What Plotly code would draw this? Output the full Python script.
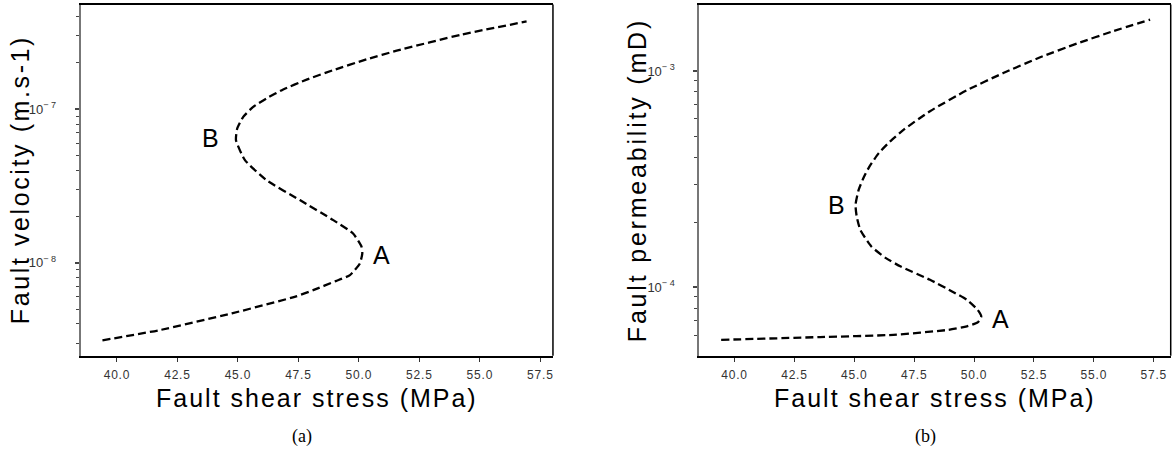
import plotly.graph_objects as go

# ---- data ----
stress_a = [39.40, 41.77, 44.75, 47.41, 48.11, 49.04, 49.63, 50.04, 50.14, 50.11,
            49.76, 48.94, 47.56, 46.18, 45.29, 44.92, 44.97, 45.22, 45.63, 46.18,
            46.87, 47.84, 48.94, 50.32, 51.56, 54.25, 56.93]
velocity_a = [3.13e-9, 3.65e-9, 4.69e-9, 6.05e-9, 6.64e-9, 7.60e-9, 8.32e-9, 9.91e-9,
              1.151e-8, 1.271e-8, 1.552e-8, 1.897e-8, 2.56e-8, 3.45e-8, 4.66e-8, 6.28e-8,
              7.48e-8, 8.91e-8, 1.035e-7, 1.175e-7, 1.343e-7, 1.556e-7, 1.795e-7, 2.11e-7,
              2.40e-7, 3.06e-7, 3.72e-7]

stress_b = [39.44, 43.57, 46.63, 48.93, 49.70, 50.15, 50.30, 50.15, 49.70, 49.08,
            48.16, 46.94, 46.32, 45.71, 45.25, 45.10, 45.05, 45.18, 45.41, 45.63,
            46.02, 46.48, 47.09, 48.16, 49.70, 51.22, 52.76, 54.29, 55.82, 57.35]
permeability_b = [5.70e-5, 5.87e-5, 6.01e-5, 6.34e-5, 6.58e-5, 6.86e-5, 7.31e-5, 7.85e-5,
                  8.73e-5, 9.55e-5, 1.081e-4, 1.245e-4, 1.361e-4, 1.542e-4, 1.841e-4,
                  2.12e-4, 2.40e-4, 2.82e-4, 3.25e-4, 3.61e-4, 4.17e-4, 4.71e-4, 5.38e-4,
                  6.52e-4, 8.15e-4, 9.79e-4, 1.158e-3, 1.340e-3, 1.531e-3, 1.730e-3]

x_tickvals = [40.0, 42.5, 45.0, 47.5, 50.0, 52.5, 55.0, 57.5]
x_ticklabels = ["40.0", "42.5", "45.0", "47.5", "50.0", "52.5", "55.0", "57.5"]

ya_tickvals = [1e-8, 1e-7]
ya_exponents = ["8", "7"]
ya_minor = [3e-9, 4e-9, 5e-9, 6e-9, 7e-9, 8e-9, 9e-9,
            2e-8, 3e-8, 4e-8, 5e-8, 6e-8, 7e-8, 8e-8, 9e-8,
            2e-7, 3e-7, 4e-7]
yb_tickvals = [1e-4, 1e-3]
yb_exponents = ["4", "3"]
yb_minor = [6e-5, 7e-5, 8e-5, 9e-5,
            2e-4, 3e-4, 4e-4, 5e-4, 6e-4, 7e-4, 8e-4, 9e-4]

x_title = "Fault shear stress (MPa)"
ya_title = "Fault velocity (m.s-1)"
yb_title = "Fault permeability (mD)"

FONT = "Liberation Sans, Arial, sans-serif"
SERIF = "Liberation Serif, Times New Roman, serif"


def spaced(text, px):
    return '<span style="letter-spacing:%spx">%s</span>' % (px, text)


x_ticktext = [spaced(t, 0.8) for t in x_ticklabels]
ya_ticktext = ["10<sup>\u2212 %s</sup>" % e for e in ya_exponents]
yb_ticktext = ["10<sup>\u2212 %s</sup>" % e for e in yb_exponents]

line_style = dict(color="black", width=2.3, dash="8px,4px", shape="spline", smoothing=0.5)

fig = go.Figure()
fig.add_trace(go.Scatter(x=stress_a, y=velocity_a, mode="lines", line=line_style,
                         xaxis="x", yaxis="y", showlegend=False))
fig.add_trace(go.Scatter(x=stress_b, y=permeability_b, mode="lines", line=line_style,
                         xaxis="x2", yaxis="y2", showlegend=False))


def xaxis(domain, rng, anchor):
    return dict(domain=domain, range=rng, anchor=anchor,
                tickmode="array", tickvals=x_tickvals, ticktext=x_ticktext,
                ticks="outside", ticklen=4, tickwidth=1, tickcolor="#333",
                ticklabelstandoff=3,
                tickfont=dict(family=FONT, size=12, color="#333"),
                showline=True, linecolor="black", linewidth=1.5, mirror=True,
                showgrid=False, zeroline=False)


def yaxis(domain, rng, anchor, tv, tt, minor):
    return dict(domain=domain, range=rng, anchor=anchor, type="log",
                tickmode="array", tickvals=tv, ticktext=tt,
                ticks="outside", ticklen=4, tickwidth=1.5, tickcolor="#444",
                ticklabelstandoff=16,
                minor=dict(tickmode="array", tickvals=minor, ticks="outside",
                           ticklen=3, tickwidth=1.2, tickcolor="#444", showgrid=False),
                tickfont=dict(family=FONT, size=13, color="#333"),
                showline=True, linecolor="#777", linewidth=2,
                showgrid=False, zeroline=False)


title_font = dict(family=FONT, size=25, color="black")
label_font = dict(family=FONT, size=25, color="black")
cap_font = dict(family=SERIF, size=18, color="black")

ydom = [0.2111, 0.990]
fig.update_layout(
    width=1174, height=451,
    margin=dict(l=0, r=0, t=0, b=0),
    paper_bgcolor="white", plot_bgcolor="white",
    xaxis=xaxis([0.0687, 0.4710], [38.50, 58.02], "y"),
    yaxis=yaxis(ydom, [-8.605, -6.319], "x", ya_tickvals, ya_ticktext, ya_minor),
    xaxis2=xaxis([0.5957, 0.9972], [38.53, 58.21], "y2"),
    yaxis2=yaxis(ydom, [-4.318, -2.692], "x2", yb_tickvals, yb_ticktext, yb_minor),
    shapes=[
        dict(type="line", xref="x domain", yref="y domain", x0=1, x1=1, y0=0, y1=1,
             line=dict(color="black", width=1.5)),
        dict(type="line", xref="x2 domain", yref="y2 domain", x0=1, x1=1, y0=0, y1=1,
             line=dict(color="black", width=1.5)),
    ],
    annotations=[
        # axis titles
        dict(text=spaced(x_title, 2), x=0.5, y=1 - 398 / 451, xref="x domain", yref="paper",
             xanchor="center", yanchor="middle", showarrow=False, font=title_font),
        dict(text=spaced(x_title, 2), x=0.5, y=1 - 398 / 451, xref="x2 domain", yref="paper",
             xanchor="center", yanchor="middle", showarrow=False, font=title_font),
        dict(text=spaced(ya_title, 2.6), x=20 / 1174, y=0.5, xref="paper", yref="y domain",
             xanchor="center", yanchor="middle", textangle=-90, showarrow=False,
             font=title_font),
        dict(text=spaced(yb_title, 2.8), x=637 / 1174, y=0.5, xref="paper", yref="y2 domain",
             xanchor="center", yanchor="middle", textangle=-90, showarrow=False,
             font=title_font),
        # point labels
        dict(text="B", x=43.88, y=-7.189, xref="x", yref="y", showarrow=False, font=label_font),
        dict(text="A", x=50.94, y=-7.95, xref="x", yref="y", showarrow=False, font=label_font),
        dict(text="B", x=44.26, y=-3.619, xref="x2", yref="y2", showarrow=False, font=label_font),
        dict(text="A", x=51.10, y=-4.148, xref="x2", yref="y2", showarrow=False, font=label_font),
        # captions
        dict(text="(a)", x=302 / 1174, y=1 - 436 / 451, xref="paper", yref="paper",
             xanchor="center", yanchor="middle", showarrow=False, font=cap_font),
        dict(text="(b)", x=926 / 1174, y=1 - 436 / 451, xref="paper", yref="paper",
             xanchor="center", yanchor="middle", showarrow=False, font=cap_font),
    ],
)

fig.write_html("out.html")
